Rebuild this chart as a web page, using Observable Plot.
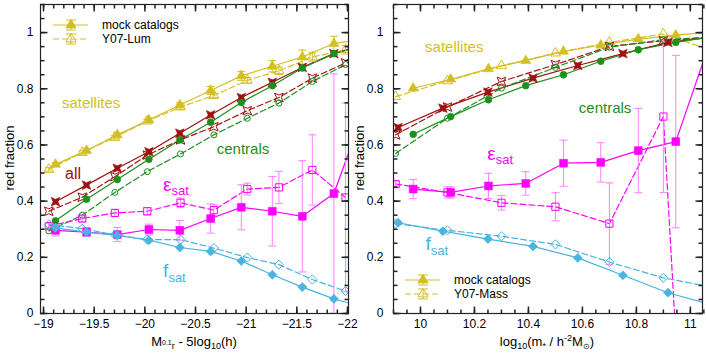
<!DOCTYPE html>
<html><head><meta charset="utf-8">
<script src="https://cdn.jsdelivr.net/npm/d3@7"></script>
<script src="https://cdn.jsdelivr.net/npm/@observablehq/plot@0.6"></script>
<style>
body{margin:0;background:#fff;}
#wrap{display:flex;width:706px;height:354px;}
#wrap svg{overflow:visible;}
</style></head><body><div id="wrap"></div>
<script>
// ---------- Left panel (luminosity bins) ----------
const magMock = [-19.118,-19.424,-19.728,-20.040,-20.345,-20.649,-20.952,-21.258,-21.554,-21.866,-22.170];
const magY07  = [-19.052,-19.382,-19.704,-20.024,-20.352,-20.681,-21.011,-21.323,-21.653,-21.981,-22.310];
const satMockL    = [0.531,0.580,0.636,0.689,0.742,0.794,0.846,0.880,0.913,0.961,0.978];
const satMockErrL = [0.006,0.006,0.007,0.007,0.008,0.014,0.016,0.020,0.025,0.026,null];
const satY07L     = [0.513,0.573,0.627,0.685,0.735,0.776,0.830,0.864,0.913,0.939,null];
const satY07ErrL  = [0.006,0.006,0.006,0.006,0.008,0.008,0.010,0.013,0.015,0.015,null];
const allMockL = [0.398,0.457,0.517,0.576,0.642,0.707,0.769,0.823,0.876,0.925,0.959];
const allY07L  = [0.364,0.414,0.487,0.564,0.618,0.665,0.722,0.769,0.838,0.892,null];
const cenMockL = [0.330,0.407,0.477,0.549,0.618,0.681,0.751,0.811,0.874,0.925,0.955];
const cenY07L  = [0.294,0.350,0.431,0.505,0.568,0.636,0.695,0.749,0.826,0.886,null];
const epsMockL    = [0.296,0.290,0.281,0.299,0.296,0.338,0.378,0.364,0.346,0.427,0.730];
const epsMockErrL = [0.020,0.016,0.025,0.019,0.035,0.052,0.080,0.124,0.198,0.426,null];
const epsY07L     = [0.311,0.338,0.358,0.364,0.394,0.368,0.443,0.449,0.511,0.413,null];
const epsY07ErrL  = [0.010,0.010,0.012,0.013,0.017,0.019,0.021,0.057,0.125,0.336,null];
const fsatMockL = [0.305,0.290,0.278,0.261,0.235,0.221,0.187,0.138,0.094,0.052,0.022];
const fsatY07L  = [0.317,0.302,0.280,0.263,0.263,0.233,0.199,0.174,0.121,0.080,0.043];

// ---------- Right panel (stellar-mass bins) ----------
const massMock8 = [9.973,10.112,10.252,10.390,10.530,10.668,10.807,10.946,11.085];
const massMock6 = [9.917,10.083,10.250,10.417,10.583,10.750,10.917,11.083];
const massY07   = [9.908,10.100,10.300,10.500,10.700,10.900,11.100];
const satMockR = [0.802,0.834,0.871,0.900,0.933,0.955,0.977,0.991,1.002];
const satY07R  = [0.772,0.828,0.882,0.927,0.965,0.995,0.930];
const cenMockR = [0.638,0.701,0.761,0.811,0.850,0.898,0.939,0.965,0.987];
const cenY07R  = [0.570,0.695,0.802,0.876,0.948,0.975,0.985];
const allMockR = [0.662,0.731,0.788,0.838,0.883,0.925,0.965,0.984];
const allY07R  = [0.636,0.735,0.826,0.886,0.951,0.971,0.985];
const epsMockR    = [0.443,0.431,0.454,0.463,0.535,0.538,0.580,0.612,1.000];
const epsMockErrR = [0.034,0.020,0.045,0.042,0.082,0.070,0.150,0.307,null];
const epsY07R     = [0.461,0.431,0.394,0.380,0.320,0.701,-2.700];
const epsY07ErrR  = [0.008,0.020,0.026,0.050,0.145,0.270,null];
const fsatMockR = [0.323,0.293,0.265,0.239,0.198,0.136,0.074,0.030];
const fsatY07R  = [0.320,0.296,0.275,0.246,0.183,0.127,0.090];

// ---------- ticks ----------
const xTicksL = [-19,-19.5,-20,-20.5,-21,-21.5,-22];
const xTicksR = [10,10.2,10.4,10.6,10.8,11];
const yTicks  = [0,0.2,0.4,0.6,0.8,1];

const YEL="#d4bf22", RED="#9e1010", GRN="#1d8f1d", MAG="#ff00ff", MAGE="#ff80ff", CYN="#48b4df", AX="#222";
const FONT = "'Liberation Sans', Arial, Helvetica, sans-serif";

const symTri = {draw(c,s){const r=Math.sqrt(s/Math.PI)*1.45; c.moveTo(0,-r); c.lineTo(r*0.866,r*0.5); c.lineTo(-r*0.866,r*0.5); c.closePath();}};
const symStar = {draw(c,s){const R=Math.sqrt(s/Math.PI)*1.65, ri=R*0.4; for(let k=0;k<8;k++){const a=Math.PI/4*(k+1); const rr=k%2===0?R:ri; const px=rr*Math.cos(a), py=rr*Math.sin(a); if(k) c.lineTo(px,py); else c.moveTo(px,py);} c.closePath();}};
const symDia = {draw(c,s){const r=Math.sqrt(s/Math.PI)*1.2; c.moveTo(0,-r); c.lineTo(r,0); c.lineTo(0,r); c.lineTo(-r,0); c.closePath();}};
const symSq = {draw(c,s){const r=Math.sqrt(s/Math.PI); c.moveTo(-r,-r); c.lineTo(r,-r); c.lineTo(r,r); c.lineTo(-r,r); c.closePath();}};
const symCap = {draw(c){c.moveTo(-4,0); c.lineTo(4,0);}};
const vt = len => ({draw(c){c.moveTo(0,0); c.lineTo(0,-len);}});
const ht = len => ({draw(c){c.moveTo(0,0); c.lineTo(len,0);}});

function rowsOf(xs, ys, es){ return xs.map((x,i)=>({x, y:ys[i], e: es ? es[i] : null})).filter(d=>d.y!=null); }

function panel(cfg){
  const marks = [];
  for (const s of cfg.series){
    marks.push(Plot.line(rowsOf(s.xs,s.ys), {x:"x", y:"y", stroke:s.color, strokeWidth:1.2, strokeDasharray: s.open ? "6,3" : null, clip:true}));
  }
  for (const s of cfg.series) if (s.es){
    const rows = rowsOf(s.xs,s.ys,s.es).filter(d=>d.e!=null);
    marks.push(Plot.ruleX(rows, {x:"x", y1:d=>d.y-d.e, y2:d=>d.y+d.e, stroke:s.ecolor, strokeWidth:1, clip:true}));
    marks.push(Plot.dot(rows, {x:"x", y:d=>d.y+d.e, symbol:symCap, stroke:s.ecolor, strokeWidth:1, clip:true}));
    marks.push(Plot.dot(rows, {x:"x", y:d=>d.y-d.e, symbol:symCap, stroke:s.ecolor, strokeWidth:1, clip:true}));
  }
  for (const s of cfg.series){
    marks.push(Plot.dot(rowsOf(s.xs,s.ys), {x:"x", y:"y", symbol:s.symbol, r:s.r, fill: s.open ? "none" : s.color, stroke:s.color, strokeWidth: s.open ? 1 : 0.6, clip:true}));
  }
  const xMinor = cfg.xMinor, yMinor = d3.range(0, 23).map(i=>i*0.05);
  marks.push(
    Plot.frame({stroke:AX, strokeWidth:1.2}),
    Plot.dot(xMinor, {x:d=>d, frameAnchor:"bottom", symbol:vt(4), stroke:AX}),
    Plot.dot(cfg.xTicks, {x:d=>d, frameAnchor:"bottom", symbol:vt(7), stroke:AX}),
    Plot.dot(xMinor, {x:d=>d, frameAnchor:"top", symbol:vt(-4), stroke:AX}),
    Plot.dot(cfg.xTicks, {x:d=>d, frameAnchor:"top", symbol:vt(-7), stroke:AX}),
    Plot.dot(yMinor, {y:d=>d, frameAnchor:"left", symbol:ht(4), stroke:AX}),
    Plot.dot(yTicks, {y:d=>d, frameAnchor:"left", symbol:ht(7), stroke:AX}),
    Plot.dot(yMinor, {y:d=>d, frameAnchor:"right", symbol:ht(-4), stroke:AX}),
    Plot.dot(yTicks, {y:d=>d, frameAnchor:"right", symbol:ht(-7), stroke:AX}),
    Plot.axisX({ticks:cfg.xTicks, anchor:"bottom", tickSize:0, tickPadding:6, fontSize:12, label:null, tickFormat:cfg.xFormat}),
    Plot.axisY({ticks:yTicks, anchor:"left", tickSize:0, tickPadding:cfg.yPad, fontSize:12, label:null, tickFormat:d=>String(+d.toFixed(1))})
  );
  const plot = Plot.plot({
    width:353, height:354, marginLeft:40, marginRight:cfg.mr, marginTop:4, marginBottom:41,
    x:{domain:cfg.xDomain, label:null}, y:{domain:[0,1.1], label:null},
    style:{fontFamily:FONT, fontSize:"12px", color:"#000", background:"none", overflow:"visible"},
    marks
  });
  return plot;
}

function richText(svg, x, y, parts, color, anchor, baseline){
  const t = d3.select(svg).append("text").attr("x",x).attr("y",y).attr("fill",color)
    .attr("text-anchor",anchor||"start").attr("font-family",FONT);
  if (baseline) t.attr("dominant-baseline", baseline);
  let prev = 0;
  for (const p of parts){
    t.append("tspan").attr("font-size",p.size).attr("dy", (p.shift||0)-prev).text(p.t);
    prev = p.shift||0;
  }
  return t;
}

function annotate(plot, labels){
  const sx = plot.scale("x"), sy = plot.scale("y");
  for (const L of labels){
    richText(plot, sx.apply(L.x), sy.apply(L.y), L.parts, L.color, L.anchor, L.baseline);
  }
}

function legend(svg, x0, y0, label2){
  const g = d3.select(svg).append("g");
  const rows = [{y:y0, dash:null, fill:YEL, text:"mock catalogs"}, {y:y0+14, dash:"6,3", fill:"none", text:label2}];
  for (const r of rows){
    g.append("line").attr("x1",x0).attr("x2",x0+35).attr("y1",r.y).attr("y2",r.y).attr("stroke",YEL).attr("stroke-width",1.2).attr("stroke-dasharray",r.dash);
    const xm = x0+18;
    g.append("line").attr("x1",xm).attr("x2",xm).attr("y1",r.y-5).attr("y2",r.y+5).attr("stroke",YEL);
    g.append("line").attr("x1",xm-5).attr("x2",xm+5).attr("y1",r.y-5).attr("y2",r.y-5).attr("stroke",YEL);
    g.append("line").attr("x1",xm-5).attr("x2",xm+5).attr("y1",r.y+5).attr("y2",r.y+5).attr("stroke",YEL);
    g.append("path").attr("transform",`translate(${xm},${r.y})`).attr("d", d3.symbol(symTri, Math.PI*16)())
      .attr("fill", r.fill).attr("stroke",YEL);
    g.append("text").attr("x",x0+49).attr("y",r.y).attr("dy","0.35em").attr("text-anchor","start")
      .attr("font-size",12).attr("font-family",FONT).attr("fill","#000").text(r.text);
  }
}

function yLabel(svg, x){
  d3.select(svg).append("text").attr("transform",`translate(${x},158) rotate(-90)`).attr("text-anchor","middle")
    .attr("dy","0.35em").attr("font-size",13).attr("font-family",FONT).attr("fill","#000").text("red fraction");
}

const epsParts = [{t:"ε", size:19},{t:"sat", size:13, shift:4}];
const fParts = [{t:"f", size:19},{t:"sat", size:13, shift:5}];
const minusFmt = d => String(d).replace("-", "\u2212");

// ---------- build left ----------
const left = panel({
  xDomain:[-18.97,-22.01], xTicks:xTicksL, xMinor:d3.range(190,221).map(i=>-i/10), xFormat:minusFmt, mr:5, yPad:7,
  series:[
    {xs:magMock, ys:satMockL, es:satMockErrL, ecolor:YEL, color:YEL, symbol:symTri, r:4},
    {xs:magY07, ys:satY07L, es:satY07ErrL, ecolor:YEL, color:YEL, symbol:symTri, r:4, open:true},
    {xs:magMock, ys:allMockL, color:RED, symbol:symStar, r:3.7},
    {xs:magY07, ys:allY07L, color:RED, symbol:symStar, r:3.7, open:true},
    {xs:magMock, ys:cenMockL, color:GRN, symbol:"circle", r:3.4},
    {xs:magY07, ys:cenY07L, color:GRN, symbol:"circle", r:3, open:true},
    {xs:magMock, ys:epsMockL, es:epsMockErrL, ecolor:MAGE, color:MAG, symbol:symSq, r:3.9},
    {xs:magY07, ys:epsY07L, es:epsY07ErrL, ecolor:MAGE, color:MAG, symbol:symSq, r:3.6, open:true},
    {xs:magMock, ys:fsatMockL, color:CYN, symbol:symDia, r:3.8},
    {xs:magY07, ys:fsatY07L, color:CYN, symbol:symDia, r:3.8, open:true}
  ]
});
annotate(left, [
  {x:-19.474, y:0.75, parts:[{t:"satellites", size:15}], color:YEL, anchor:"middle", baseline:"central"},
  {x:-19.296, y:0.50, parts:[{t:"all", size:16}], color:RED, anchor:"middle", baseline:"central"},
  {x:-20.974, y:0.589, parts:[{t:"centrals", size:15}], color:GRN, anchor:"middle", baseline:"central"},
  {x:-20.185, y:0.436, parts:epsParts, color:MAG},
  {x:-20.185, y:0.129, parts:fParts, color:CYN}
]);
legend(left, 53, 25, "Y07-Lum");
yLabel(left, 9);
richText(left, 194, 346, [{t:"M", size:13},{t:"0.1", size:7, shift:-1},{t:"r", size:9, shift:3},{t:" - 5log", size:13, shift:0},{t:"10", size:9, shift:3},{t:"(h)", size:13, shift:0}], "#000", "middle");

// ---------- build right ----------
const right = panel({
  xDomain:[9.9,11.045], xTicks:xTicksR, xMinor:d3.range(198,222).map(i=>i*0.05), xFormat:d=>String(+d.toFixed(1)), mr:4, yPad:10,
  series:[
    {xs:massMock8, ys:satMockR, color:YEL, symbol:symTri, r:4},
    {xs:massY07, ys:satY07R, color:YEL, symbol:symTri, r:4, open:true},
    {xs:massMock6, ys:allMockR, color:RED, symbol:symStar, r:3.7},
    {xs:massY07, ys:allY07R, color:RED, symbol:symStar, r:3.7, open:true},
    {xs:massMock8, ys:cenMockR, color:GRN, symbol:"circle", r:3.4},
    {xs:massY07, ys:cenY07R, color:GRN, symbol:"circle", r:3, open:true},
    {xs:massMock8, ys:epsMockR, es:epsMockErrR, ecolor:MAGE, color:MAG, symbol:symSq, r:3.9},
    {xs:massY07, ys:epsY07R, es:epsY07ErrR, ecolor:MAGE, color:MAG, symbol:symSq, r:3.6, open:true},
    {xs:massMock6, ys:fsatMockR, color:CYN, symbol:symDia, r:3.8},
    {xs:massY07, ys:fsatY07R, color:CYN, symbol:symDia, r:3.8, open:true}
  ]
});
annotate(right, [
  {x:10.127, y:0.95, parts:[{t:"satellites", size:15}], color:YEL, anchor:"middle", baseline:"central"},
  {x:10.686, y:0.732, parts:[{t:"centrals", size:15}], color:GRN, anchor:"middle", baseline:"central"},
  {x:10.249, y:0.546, parts:epsParts, color:MAG},
  {x:10.02, y:0.225, parts:fParts, color:CYN}
]);
legend(right, 52, 280, "Y07-Mass");
yLabel(right, 6);
richText(right, 194, 346, [{t:"log", size:13},{t:"10", size:9, shift:3},{t:"(m", size:13, shift:0},{t:"*", size:9, shift:3},{t:" / h", size:13, shift:0},{t:"-2", size:9, shift:-5},{t:"M", size:13, shift:0},{t:"\u2299", size:8, shift:3},{t:")", size:13, shift:0}], "#000", "middle");

document.getElementById("wrap").append(left, right);
</script></body></html>
